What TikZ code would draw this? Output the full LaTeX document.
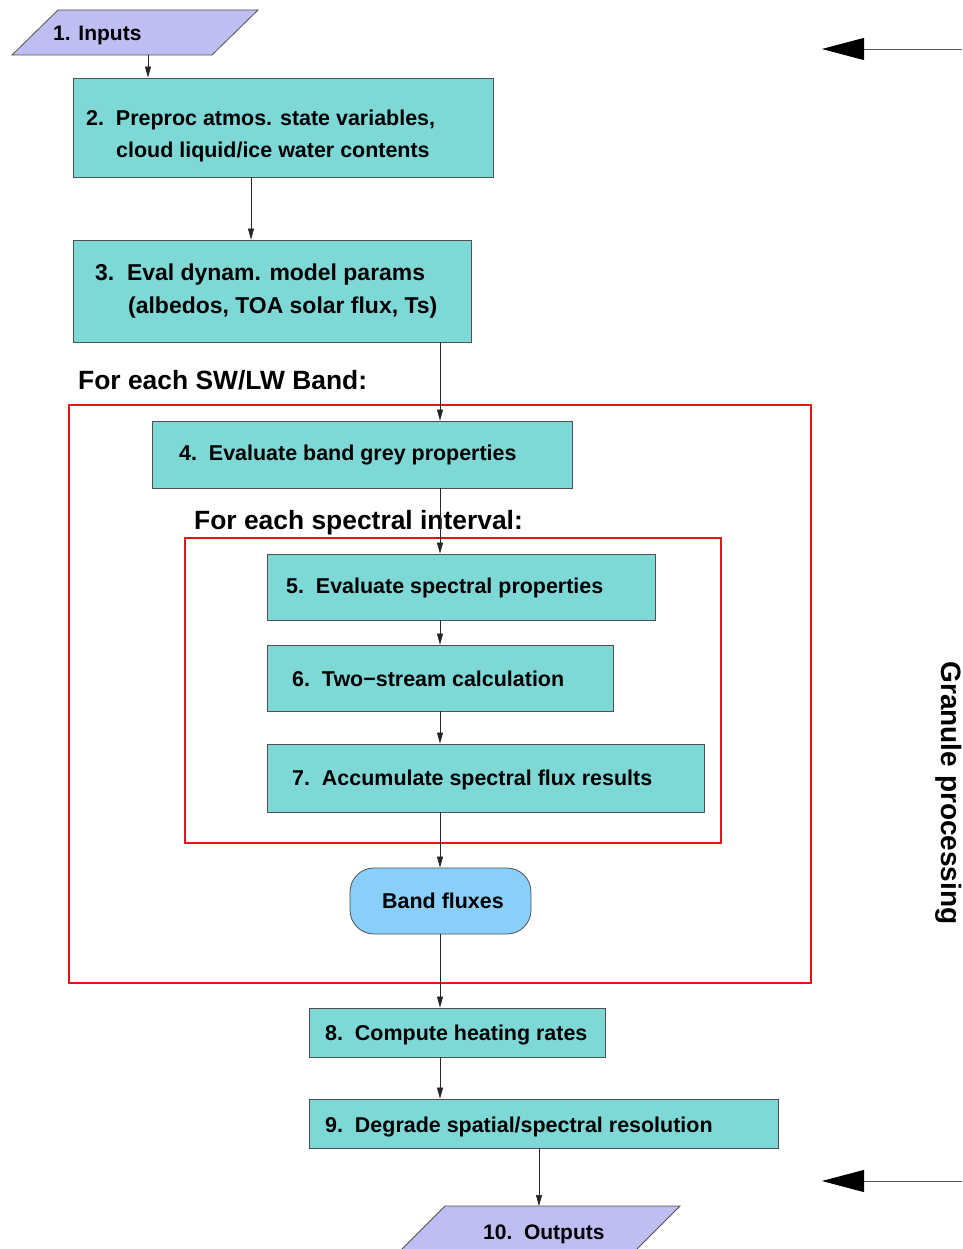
\documentclass[tikz,border=0pt]{standalone}
\usepackage{fontspec}
\setmainfont{Liberation Sans}
\usetikzlibrary{arrows.meta}
\definecolor{boxfill}{RGB}{126,216,214}
\definecolor{iofill}{RGB}{190,190,242}
\definecolor{bandfill}{RGB}{138,206,250}
\definecolor{edgegray}{RGB}{80,80,80}
\definecolor{loopred}{RGB}{230,20,20}
\tikzset{
  stepbox/.style={draw=edgegray, fill=boxfill, line width=0.8pt, inner sep=0pt},
  iobox/.style={draw=edgegray, fill=iofill, line width=0.8pt},
  loopbox/.style={draw=loopred, line width=1.4pt, inner sep=0pt},
  bandbox/.style={draw=edgegray, fill=bandfill, line width=0.8pt, rounded corners=24pt, inner sep=0pt},
  txt/.style={anchor=base west, inner sep=0pt, font=\bfseries\fontsize{21.45}{25}\selectfont},
  bigtxt/.style={anchor=base west, inner sep=0pt, font=\bfseries\fontsize{22.95}{27}\selectfont},
  looptxt/.style={anchor=base west, inner sep=0pt, font=\bfseries\fontsize{26.4}{30}\selectfont},
  conn/.style={draw=black!85, line width=0.7pt, -{Triangle[length=11pt,width=6pt]}},
  bigconn/.style={draw=black!65, line width=0.8pt, -{Triangle[length=42pt,width=22pt,color=black]}}
}
\begin{document}
\begin{tikzpicture}[x=1pt,y=-1pt]
\useasboundingbox (0,0) rectangle (962,1249);
\clip (0,0) rectangle (962,1249);

% loop frames
\node[loopbox, minimum width=742pt, minimum height=578pt] (bandloop) at (440,694) {};
\node[loopbox, minimum width=536pt, minimum height=305pt] (specloop) at (453,690.5) {};

% 1. Inputs
\path[iobox] (58,10) -- (258,10) -- (212,55) -- (12,55) -- cycle;
\node[txt, font=\bfseries\fontsize{21}{25}\selectfont] (t1) at (53,40.5) {1. Inputs};
\coordinate (inbot) at (148,55);

% boxes
\node[stepbox, minimum width=420pt, minimum height=99pt] (n2) at (283,127.5) {};
\node[txt] (t2a) at (86,126) {2.~~Preproc atmos. state variables,};
\node[txt] (t2b) at (116,158) {cloud liquid/ice water contents};

\node[stepbox, minimum width=398pt, minimum height=102pt] (n3) at (272,291) {};
\node[bigtxt] (t3a) at (95,280) {3.~~Eval dynam. model params};
\node[bigtxt] (t3b) at (128,313.5) {(albedos, TOA solar flux, Ts)};

\node[looptxt] (lb) at (78,389) {For each SW/LW Band:};

\node[stepbox, minimum width=420pt, minimum height=67pt] (n4) at (362,454.5) {};
\node[txt] (t4) at (179,460) {4.~~Evaluate band grey properties};

\node[looptxt] (ls) at (194,529) {For each spectral interval:};

\node[stepbox, minimum width=388pt, minimum height=66pt] (n5) at (461,587) {};
\node[txt] (t5) at (286,593.5) {5.~~Evaluate spectral properties};

\node[stepbox, minimum width=346pt, minimum height=66pt] (n6) at (440,678) {};
\node[txt] (t6) at (292,686.5) {6.~~Two−stream calculation};

\node[stepbox, minimum width=437pt, minimum height=68pt] (n7) at (485.5,778) {};
\node[txt] (t7) at (292,785.5) {7.~~Accumulate spectral flux results};

\node[bandbox, minimum width=181pt, minimum height=66pt] (bf) at (440.5,901) {};
\node[font=\bfseries\fontsize{21.45}{25}\selectfont, inner sep=0pt] (tbf) at (443,901) {Band fluxes};

\node[stepbox, minimum width=296pt, minimum height=49pt] (n8) at (457,1032.5) {};
\node[txt] (t8) at (325,1040.5) {8.~~Compute heating rates};

\node[stepbox, minimum width=469pt, minimum height=49pt] (n9) at (543.5,1123.5) {};
\node[txt] (t9) at (325,1132.5) {9.~~Degrade spatial/spectral resolution};

% 10. Outputs
\path[iobox] (445,1206) -- (680,1206) -- (620,1266) -- (385,1266) -- cycle;
\node[txt, font=\bfseries\fontsize{21}{25}\selectfont] (t10) at (483,1239) {10.~~Outputs};
\coordinate (outtop) at (539,1206);

% granule processing
\node[rotate=-90, inner sep=0pt, font=\bfseries\fontsize{28}{32}\selectfont] (gp) at (949,793) {Granule processing};

% connector columns
\coordinate (c251) at (251,0);
\coordinate (c440) at (440,0);
\coordinate (c539) at (539,0);

\draw[conn] (inbot) -- (n2.north -| inbot);
\draw[conn] (n2.south -| c251) -- (n3.north -| c251);
\draw[conn] (n3.south -| c440) -- (n4.north -| c440);
\draw[conn] (n4.south -| c440) -- (n5.north -| c440);
\draw[conn] (n5.south -| c440) -- (n6.north -| c440);
\draw[conn] (n6.south -| c440) -- (n7.north -| c440);
\draw[conn] (n7.south -| c440) -- (bf.north -| c440);
\draw[conn] (bf.south -| c440) -- (n8.north -| c440);
\draw[conn] (n8.south -| c440) -- (n9.north -| c440);
\draw[conn] (n9.south -| c539) -- (outtop);

% big side arrows
\coordinate (a1s) at (962,49);
\coordinate (a1e) at (822,49);
\coordinate (a2s) at (962,1181);
\coordinate (a2e) at (822,1181);
\draw[bigconn] (a1s) -- (a1e);
\draw[bigconn] (a2s) -- (a2e);
\end{tikzpicture}
\end{document}
